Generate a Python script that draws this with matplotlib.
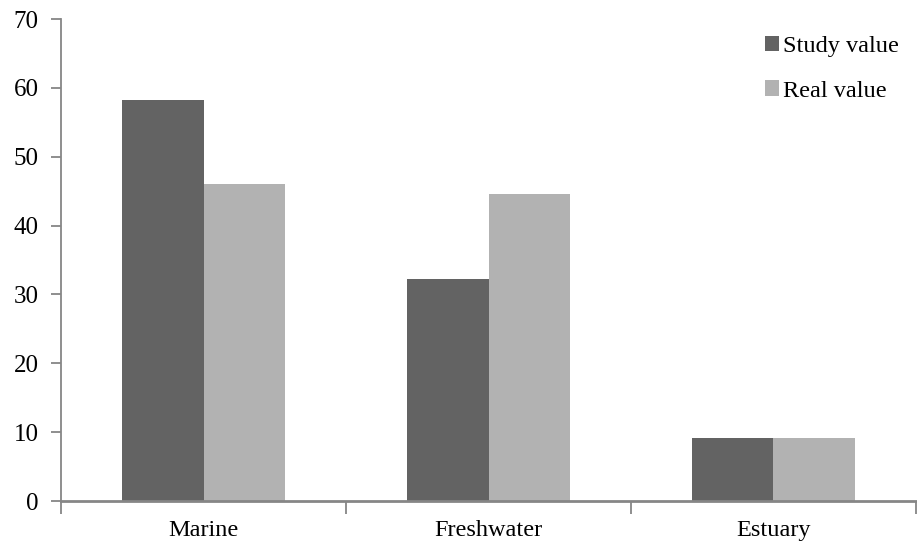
import numpy as np
from matplotlib import pyplot as plt

categories = ["Marine", "Freshwater", "Estuary"]
study_value = [58.3, 32.2, 9.2]
real_value = [46.0, 44.6, 9.2]

plt.rcParams["font.family"] = ["Liberation Serif", "DejaVu Serif"]

fig = plt.figure(figsize=(9.17, 5.49), dpi=100)
ax = fig.add_axes([61 / 917, 48 / 549, 855 / 917, 482 / 549])

x = np.arange(len(categories))
width = 0.2875
ax.bar(x - width / 2, study_value, width, color="#636363", label="Study value")
ax.bar(x + width / 2, real_value, width, color="#b2b2b2", label="Real value")

ax.set_xlim(-0.5, len(categories) - 0.5)
ax.set_ylim(0, 70)
ax.set_yticks(np.arange(0, 71, 10))

axis_col = "#868686"
for side in ["top", "right"]:
    ax.spines[side].set_visible(False)
ax.spines["left"].set_color(axis_col)
ax.spines["bottom"].set_color(axis_col)
ax.spines["left"].set_linewidth(1.3)
ax.spines["bottom"].set_linewidth(2.0)

ax.set_xticks(x)
ax.set_xticklabels(categories)
ax.tick_params(axis="x", length=0, labelsize=17.5, pad=14)
ax.tick_params(axis="y", length=7, color=axis_col, width=1.3, labelsize=18, pad=9)

# category boundary ticks below the axis
ax.set_xticks(np.arange(-0.5, len(categories), 1.0), minor=True)
ax.tick_params(axis="x", which="minor", length=9, color=axis_col, width=1.3)

leg = ax.legend(loc="upper right", bbox_to_anchor=(1.0, 1.0), frameon=False, fontsize=17.5,
                handlelength=0.6, handleheight=0.6, handletextpad=0.15, labelspacing=0.95,
                borderaxespad=0.3)

plt.savefig("out.png")
